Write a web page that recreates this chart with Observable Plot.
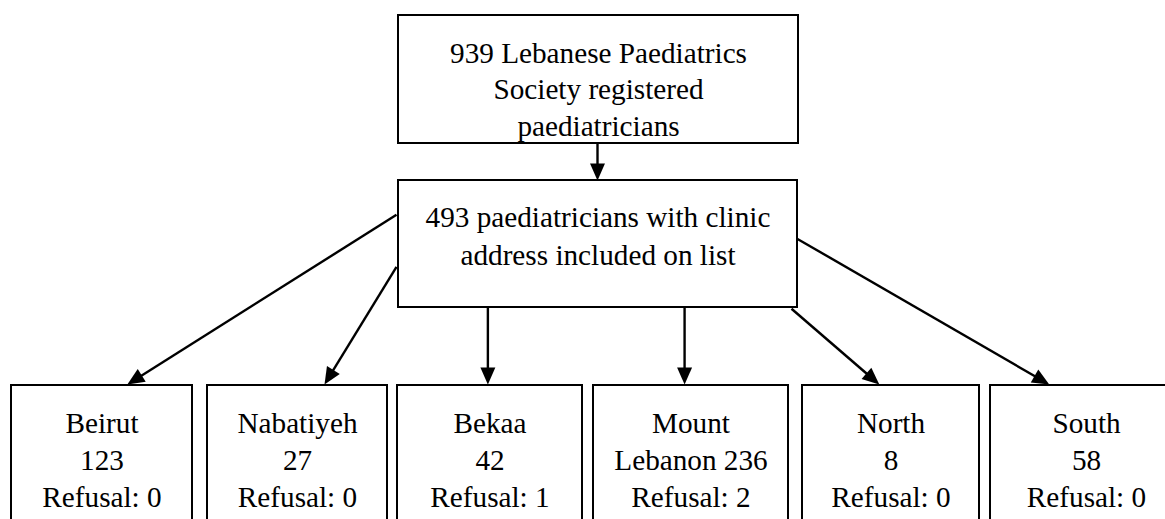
<!DOCTYPE html>
<html><head><meta charset="utf-8">
<script src="https://cdn.jsdelivr.net/npm/d3@7"></script>
<script src="https://cdn.jsdelivr.net/npm/@observablehq/plot@0.6"></script>
<style>html,body{margin:0;padding:0;background:#fff;overflow:hidden}#chart{width:1165px;height:519px;overflow:hidden}</style>
</head><body><div id="chart"></div>
<script>
// ---- data ----
const topLabel = "939 Lebanese Paediatrics\nSociety registered\npaediatricians";
const midLabel = "493 paediatricians with clinic\naddress included on list";
const regions = ["Beirut", "Nabatiyeh", "Bekaa", "Mount Lebanon", "North", "South"];
const counts = [123, 27, 42, 236, 8, 58];
const refusals = [0, 0, 1, 2, 0, 0];

// ---- layout ----
const W = 1165, H = 519;
const topBox = {x1: 398, x2: 798, y1: 15, y2: 143};
const midBox = {x1: 398, x2: 797, y1: 180, y2: 307};
const regionSpan = [[11, 192], [207, 387], [397, 582], [593, 788], [802, 979], [990, 1182]];
const regionTop = 385, regionBottom = 545;
const arrowStart = [[-0.005, 0.27], [-0.005, 0.68], [0.224, 1], [0.717, 1], [0.985, 1.01], [1.0, 0.46]];
const arrowEnd = [0.64, 0.65, 0.5, 0.47, 0.434, 0.306];

const serif = "'Liberation Serif', 'Times New Roman', 'DejaVu Serif', serif";
// fit font size so the first line spans ~297px as in the reference
const cv = document.createElement("canvas").getContext("2d");
cv.font = `29px ${serif}`;
const measured = cv.measureText("939 Lebanese Paediatrics").width;
const fs = Math.min(30, 29 * 297 / measured);

const boxes = [
  {...topBox},
  {...midBox},
  ...regionSpan.map(([a, b]) => ({x1: a, x2: b, y1: regionTop, y2: regionBottom}))
];

function regionText(name, n, r) {
  const parts = name.split(" ");
  const first = parts.length > 1 ? parts[0] + "\n" + parts.slice(1).join(" ") + " " + n : name + "\n" + n;
  return first + "\nRefusal: " + r;
}
// first-line baselines and line gaps
const labels = [
  {x: (topBox.x1 + topBox.x2) / 2, base: 52.7, text: topLabel, gap: 36.5},
  {x: (midBox.x1 + midBox.x2) / 2, base: 216.7, text: midLabel, gap: 38.3},
  ...regions.map((name, i) => ({
    x: (regionSpan[i][0] + regionSpan[i][1]) / 2, base: 423.3,
    text: regionText(name, counts[i], refusals[i]), gap: 36.7
  }))
];
const lines = labels.flatMap(l => l.text.split("\n").map((t, j) => ({x: l.x, y: l.base + j * l.gap, text: t})));

const arrows = [
  {sx: 597, sy: topBox.y2, tx: 597, ty: midBox.y1},
  ...regions.map((_, i) => {
    const [fx, fy] = arrowStart[i];
    const sx = midBox.x1 + fx * (midBox.x2 - midBox.x1);
    const sy = midBox.y1 + fy * (midBox.y2 - midBox.y1);
    const tx = i === 2 || i === 3 ? sx : regionSpan[i][0] + arrowEnd[i] * (regionSpan[i][1] - regionSpan[i][0]);
    return {sx, sy, tx, ty: regionTop - 1};
  })
].map(a => {
  const dx = a.tx - a.sx, dy = a.ty - a.sy, L = Math.hypot(dx, dy);
  return {...a, ex: a.tx - 10 * dx / L, ey: a.ty - 10 * dy / L, angle: Math.atan2(dx, -dy) * 180 / Math.PI};
});

const head = {draw(ctx) { ctx.moveTo(0, 0); ctx.lineTo(-7.5, 17); ctx.lineTo(7.5, 17); ctx.closePath(); }};

const chart = Plot.plot({
  width: W, height: H,
  margin: 0,
  x: {domain: [0, W], range: [0, W], axis: null},
  y: {domain: [0, H], range: [0, H], axis: null},
  style: {background: "#fff", fontFamily: serif},
  marks: [
    Plot.link(arrows, {x1: "sx", y1: "sy", x2: "ex", y2: "ey", stroke: "#000", strokeWidth: 2.4}),
    Plot.rect(boxes, {x1: "x1", x2: "x2", y1: "y1", y2: "y2", fill: "#fff", stroke: "#000", strokeWidth: 2}),
    Plot.dot(arrows, {x: "tx", y: "ty", symbol: head, rotate: "angle", r: 5, fill: "#000", stroke: "none"}),
    Plot.text(lines, {x: "x", y: "y", text: "text", textAnchor: "middle", fontSize: fs, fontFamily: serif, fill: "#000"})
  ]
});
chart.querySelectorAll("text").forEach(t => { t.setAttribute("dominant-baseline", "alphabetic"); t.removeAttribute("dy"); });
document.getElementById("chart").appendChild(chart);
</script>
</body></html>
